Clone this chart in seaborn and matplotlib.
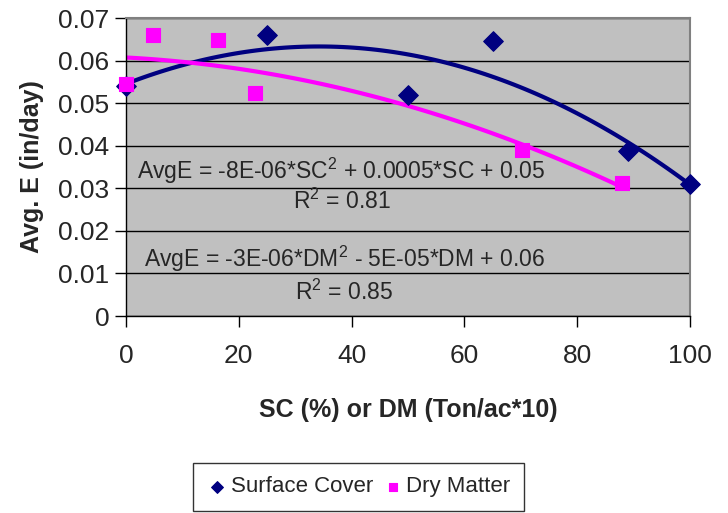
import numpy as np
import pandas as pd
import matplotlib
matplotlib.use('Agg')
import matplotlib.pyplot as plt
import seaborn as sns

# === DATOS ===
sc_x = [0, 25, 50, 65, 89, 100]
sc_y = [0.054, 0.066, 0.052, 0.0647, 0.0388, 0.031]
dm_x = [0, 4.8, 16.3, 22.9, 70.2, 88]
dm_y = [0.0545, 0.066, 0.0648, 0.0523, 0.039, 0.0312]

sc_eq = 'AvgE = -8E-06*SC$^2$ + 0.0005*SC + 0.05'
sc_r2 = 'R$^2$ = 0.81'
dm_eq = 'AvgE = -3E-06*DM$^2$ - 5E-05*DM + 0.06'
dm_r2 = 'R$^2$ = 0.85'

navy = '#000080'
magenta = '#FF00FF'

sns.set_style('white')
plt.rcParams['font.family'] = ['Liberation Sans', 'DejaVu Sans']
plt.rcParams['mathtext.fontset'] = 'custom'
plt.rcParams['mathtext.rm'] = 'Liberation Sans'

fig = plt.figure(figsize=(7.28, 5.13), dpi=100)
ax = fig.add_axes([126/728, 1 - 316/513, (690-126)/728, (316-18)/513])
ax.set_facecolor('#C0C0C0')

# lineas de tendencia (polinomio grado 2)
sns.regplot(x=sc_x, y=sc_y, order=2, ci=None, scatter=False, ax=ax,
            line_kws={'color': navy, 'lw': 3})
sns.regplot(x=dm_x, y=dm_y, order=2, ci=None, scatter=False, ax=ax,
            line_kws={'color': magenta, 'lw': 3})

# puntos
sns.scatterplot(x=sc_x, y=sc_y, marker='D', color=navy, s=100, edgecolor=navy,
                ax=ax, label='Surface Cover', zorder=5, clip_on=False)
sns.scatterplot(x=dm_x, y=dm_y, marker='s', color=magenta, s=100, edgecolor=magenta,
                ax=ax, label='Dry Matter', zorder=5, clip_on=False)

ax.set_xlim(0, 100)
ax.set_ylim(0, 0.07)
ax.set_xticks([0, 20, 40, 60, 80, 100])
ax.set_yticks(np.arange(0, 0.0701, 0.01))
ax.set_yticklabels(['0', '0.01', '0.02', '0.03', '0.04', '0.05', '0.06', '0.07'])
ax.yaxis.grid(True, color='black', lw=1)
ax.set_axisbelow(True)
ax.tick_params(axis='both', labelsize=19, length=8, width=1, direction='out',
               color='black', left=True, bottom=True)
ax.tick_params(axis='x', pad=12)
ax.tick_params(axis='y', pad=4)

for s in ['top', 'right']:
    ax.spines[s].set_color('#808080')
    ax.spines[s].set_linewidth(1.5)
for s in ['left', 'bottom']:
    ax.spines[s].set_color('black')
    ax.spines[s].set_linewidth(1)

ax.set_xlabel('SC (%) or DM (Ton/ac*10)', fontsize=18, fontweight='bold', labelpad=22)
ax.set_ylabel('Avg. E (in/day)', fontsize=18, fontweight='bold', labelpad=10)

# ecuaciones
ax.text(137, 171, sc_eq, transform=None, fontsize=16.5, va='center')
ax.text(293, 201, sc_r2, transform=None, fontsize=16.5, va='center')
ax.text(144, 259, dm_eq, transform=None, fontsize=16.5, va='center')
ax.text(295, 292, dm_r2, transform=None, fontsize=16.5, va='center')
for t in ax.texts:
    x, y = t.get_position()
    t.set_position((x, 513 - y))

leg = ax.legend(loc='upper left', bbox_to_anchor=(193/728, 1 - 463/513),
                bbox_transform=fig.transFigure, ncol=2, fontsize=16, frameon=True,
                fancybox=False, edgecolor='black', handletextpad=0.1,
                columnspacing=0.4, borderpad=0.6, borderaxespad=0,
                markerscale=0.6, handlelength=1.0)
leg.get_frame().set_linewidth(1)

fig.savefig('out.png', dpi=100)
